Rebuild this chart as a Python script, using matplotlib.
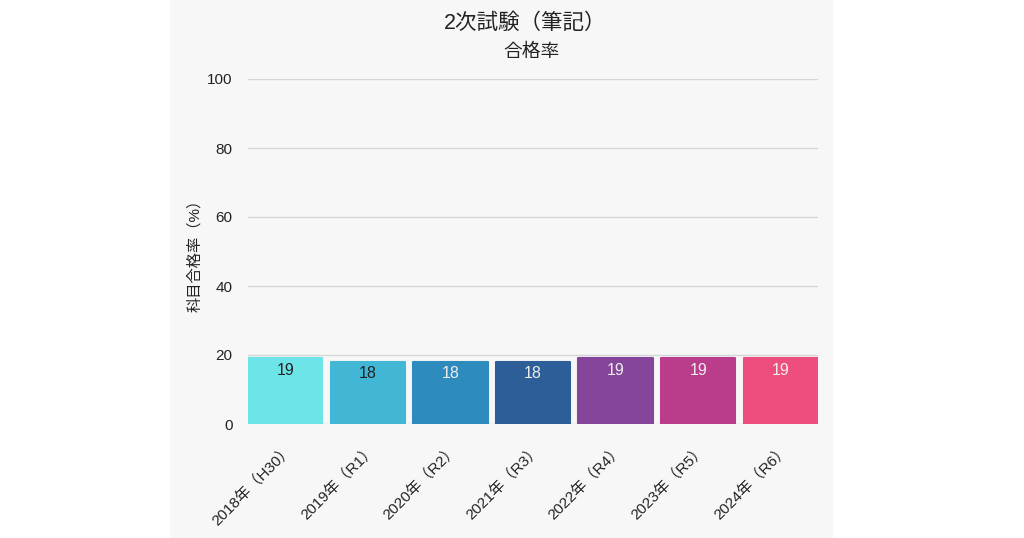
import matplotlib
matplotlib.use("Agg")
import matplotlib.pyplot as plt
from matplotlib.patches import Rectangle

plt.rcParams["font.family"] = ["Liberation Sans", "Noto Sans CJK JP", "DejaVu Sans"]

years = ["2018年（H30）", "2019年（R1）", "2020年（R2）", "2021年（R3）",
         "2022年（R4）", "2023年（R5）", "2024年（R6）"]
rates = [19, 18, 18, 18, 19, 19, 19]
colors = ["#6de5e8", "#42b7d5", "#2e8bbe", "#2d5e97",
          "#85459b", "#ba3d8b", "#ee4e7e"]
label_colors = ["#222222", "#222222", "#eeeeee", "#eeeeee",
                "#eeeeee", "#eeeeee", "#eeeeee"]

fig = plt.figure(figsize=(10.24, 5.38), dpi=100)
fig.patch.set_facecolor("white")
# light grey panel behind the chart
fig.patches.append(Rectangle((170 / 1024, 0), 662 / 1024, 1,
                             transform=fig.transFigure, color="#f7f7f7", zorder=-10))

ax = fig.add_axes([248 / 1024, 1 - 424 / 538, 570 / 1024, 345 / 538])
ax.set_facecolor("none")

x = range(len(years))
bars = ax.bar(x, rates, width=0.9, color=colors, edgecolor=colors,
              linewidth=1.5, joinstyle="round", zorder=3)

for b, v, c in zip(bars, rates, label_colors):
    ax.annotate(f"{v:.0f}", (b.get_x() + b.get_width() / 2, v),
                xytext=(0, -8.5), textcoords="offset points",
                ha="center", va="center", fontsize=11.5, color=c, zorder=4)

ax.set_xlim(-0.45, len(years) - 0.55)
ax.set_ylim(0, 100)
ax.set_yticks([0, 20, 40, 60, 80, 100])
ax.grid(axis="y", color="#d6d6d6", linewidth=1, zorder=0)
ax.set_axisbelow(True)
for s in ax.spines.values():
    s.set_visible(False)

ax.set_xticks(list(x))
ax.set_xticklabels(years, rotation=45, ha="right", rotation_mode="anchor",
                   fontsize=11, color="#222222")
ax.tick_params(axis="both", length=0)
ax.tick_params(axis="y", labelsize=11, labelcolor="#222222", pad=11)
ax.tick_params(axis="x", pad=13)

ax.set_ylabel("科目合格率（%）", fontsize=11, color="#222222", labelpad=4)

fig.text(525 / 1024, 1 - 23 / 538, "2次試験（筆記）", ha="center", va="center",
         fontsize=15.5, color="#222222")
fig.text(532 / 1024, 1 - 52 / 538, "合格率", ha="center", va="center",
         fontsize=13.5, color="#222222")

fig.savefig("out.png", dpi=100)
